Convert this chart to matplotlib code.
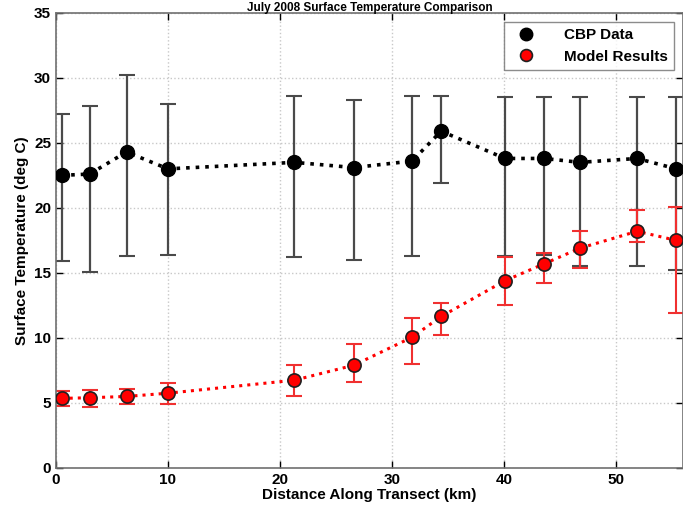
import matplotlib.pyplot as plt

plt.rcParams['font.family'] = ['Liberation Sans', 'DejaVu Sans']
plt.rcParams['font.weight'] = 'bold'

# distance along transect (km)
dist = [0.5, 3.0, 6.3, 10.0, 21.3, 26.6, 31.8, 34.4, 40.1, 43.6, 46.8, 51.9, 55.4]

# CBP observations with upper/lower whisker ends
cbp = [22.5, 22.6, 24.3, 23.0, 23.5, 23.1, 23.6, 25.9, 23.8, 23.8, 23.5, 23.8, 23.0]
cbp_hi = [27.2, 27.8, 30.2, 28.0, 28.6, 28.3, 28.6, 28.6, 28.5, 28.5, 28.5, 28.5, 28.5]
cbp_lo = [15.9, 15.1, 16.3, 16.4, 16.2, 16.0, 16.3, 21.9, 16.3, 16.4, 15.5, 15.5, 15.2]

# model results
model = [5.35, 5.4, 5.5, 5.75, 6.75, 7.9, 10.05, 11.65, 14.4, 15.7, 16.9, 18.2, 17.5]
model_hi = [5.9, 6.0, 6.1, 6.5, 7.9, 9.5, 11.5, 12.7, 16.2, 16.5, 18.2, 19.8, 20.1]
model_lo = [4.8, 4.7, 4.9, 4.9, 5.5, 6.6, 8.0, 10.2, 12.5, 14.2, 15.4, 17.4, 11.9]

fig = plt.figure(figsize=(6.83, 5.12), dpi=100)
ax = fig.add_axes([0.082, 0.086, 0.918, 0.889])

cbp_err = [[c - l for c, l in zip(cbp, cbp_lo)], [h - c for c, h in zip(cbp, cbp_hi)]]
mod_err = [[m - l for m, l in zip(model, model_lo)], [h - m for m, h in zip(model, model_hi)]]

ax.errorbar(dist, cbp, yerr=cbp_err, fmt='none', ecolor='#4a4a4a', elinewidth=1.6,
            capsize=6, capthick=1.5, zorder=2)
ax.plot(dist, cbp, ':', color='black', lw=2.6, zorder=3)
ax.plot(dist, cbp, 'o', color='black', ms=10, zorder=4, label='CBP Data')

ax.errorbar(dist, model, yerr=mod_err, fmt='none', ecolor='#f03030', elinewidth=1.5,
            capsize=6, capthick=1.5, zorder=2)
ax.plot(dist, model, ':', color='red', lw=2.2, zorder=3)
ax.plot(dist, model, 'o', mfc='red', mec='#202020', mew=1.2, ms=9.5, zorder=4,
        label='Model Results')

ax.set_xlim(0, 56)
ax.set_ylim(0, 35)
ax.set_xticks([0, 10, 20, 30, 40, 50])
ax.set_yticks(range(0, 36, 5))
ax.tick_params(direction='in', top=True, right=True, labelsize=11, length=5, width=1)
ax.grid(True, linestyle=':', color='#c8c8c8', lw=1)
for s in ax.spines.values():
    s.set_color('#707070')
    s.set_linewidth(1.2)

ax.set_xlabel('Distance Along Transect (km)', fontsize=11, fontweight='bold', labelpad=1)
ax.set_ylabel('Surface Temperature (deg C)', fontsize=11, fontweight='bold', labelpad=4)
ax.set_title('July 2008 Surface Temperature Comparison', fontsize=8.5, fontweight='bold', pad=1.5)

leg = ax.legend(loc='upper right', fontsize=11, frameon=True, fancybox=False,
                edgecolor='#707070', borderaxespad=0.6, handletextpad=1.5, markerscale=0.9)
leg.get_frame().set_linewidth(1.0)

fig.savefig('out.png', dpi=100)
